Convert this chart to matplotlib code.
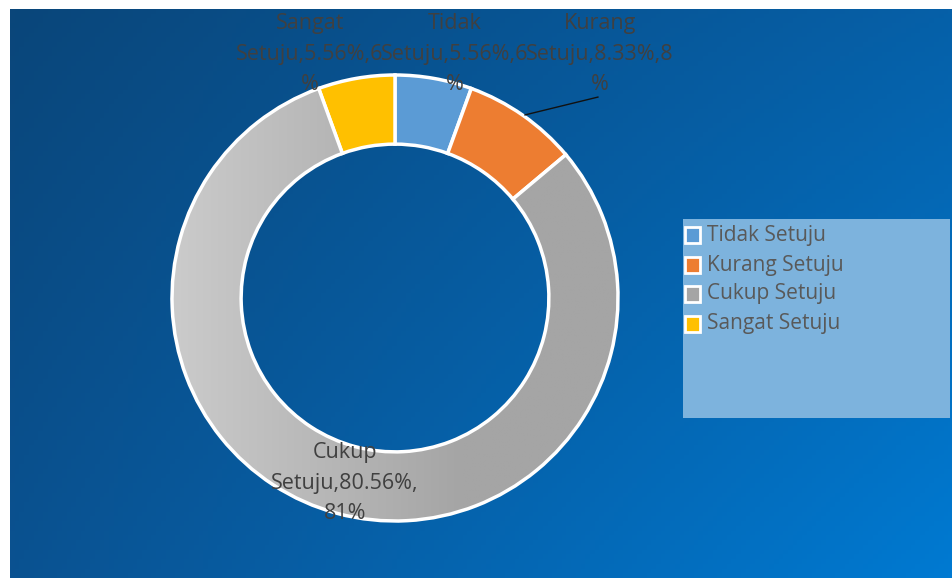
import numpy as np
import matplotlib
matplotlib.use("Agg")
import matplotlib.pyplot as plt
from matplotlib.patches import Rectangle

categories = ["Tidak Setuju", "Kurang Setuju", "Cukup Setuju", "Sangat Setuju"]
percent = [5.56, 8.33, 80.56, 5.56]
rounded = [6, 8, 81, 6]
colors = ["#5B9BD5", "#ED7D31", "#A5A5A5", "#FFC000"]
label_texts = ["Tidak\nSetuju,5.56%,6\n%", "Kurang\nSetuju,8.33%,8\n%",
               "Cukup\nSetuju,80.56%,\n81%", "Sangat\nSetuju,5.56%,6\n%"]

W, H = 953, 578
fig = plt.figure(figsize=(W / 100, H / 100), dpi=100)
fig.patch.set_facecolor("white")

# background gradient panel
bg = fig.add_axes([10 / W, 0, (W - 10) / W, (H - 9) / H])
bg.set_axis_off()
nx, ny = 200, 120
xx, yy = np.meshgrid(np.linspace(0, 1, nx), np.linspace(0, 1, ny))
tl = np.array([10, 70, 122]) / 255
tr = np.array([6, 96, 168]) / 255
bl = np.array([10, 82, 145]) / 255
br = np.array([0, 122, 210]) / 255
img = ((1 - xx)[..., None] * (1 - yy)[..., None] * tl + xx[..., None] * (1 - yy)[..., None] * tr
       + (1 - xx)[..., None] * yy[..., None] * bl + xx[..., None] * yy[..., None] * br)
bg.imshow(img, aspect="auto", extent=[0, 1, 1, 0])
bg.set_xlim(0, 1)
bg.set_ylim(1, 0)

# donut axes
cx, cy, R = 395, 298, 223
ax = fig.add_axes([(cx - R) / W, (H - cy - R) / H, 2 * R / W, 2 * R / H])
ax.set_axis_off()
ax.patch.set_alpha(0)
wedges, _ = ax.pie(percent, colors=colors, startangle=90, counterclock=False,
                   radius=1, wedgeprops=dict(width=0.31, edgecolor="white", linewidth=2.5))
ax.set_xlim(-1, 1)
ax.set_ylim(-1, 1)
ax.set_aspect("equal")

# gradient on the grey segment
gx, gy = np.meshgrid(np.linspace(-1, 1, 300), np.linspace(-1, 1, 300))
t = np.clip((gx + 1) / 1.3, 0, 1)
light = np.array([203, 203, 203]) / 255
dark = np.array([165, 165, 165]) / 255
gimg = (1 - t)[..., None] * light + t[..., None] * dark
im = ax.imshow(gimg, extent=[-1, 1, -1, 1], origin="lower", zorder=wedges[2].get_zorder() + 0.1)
im.set_clip_path(wedges[2])
wedges[2].set_facecolor("none")
wedges[2].set_zorder(im.get_zorder() + 0.1)

font = "Open Sans"
txtc = "#404040"
label_pos = [(0.269, 1.094), (0.919, 1.094), (-0.224, -0.83), (-0.381, 1.094)]
for txt, (lx, ly) in zip(label_texts, label_pos):
    ax.text(lx, ly, txt, ha="center", va="center", fontsize=15.5, color=txtc,
            family=font, linespacing=1.6, clip_on=False, zorder=10)
ax.plot([0.583, 0.910], [0.821, 0.901], color="#111111", lw=1, clip_on=False, zorder=9)

# legend box
fig.patches.append(Rectangle((683 / W, (H - 418) / H), 267 / W, 199 / H,
                             transform=fig.transFigure, facecolor="#7db3dd", edgecolor="none", zorder=5))
rows = [235, 265, 294, 324]
for name, col, ry in zip(categories, colors, rows):
    fig.patches.append(Rectangle((685 / W, (H - ry - 8) / H), 15 / W, 16 / H, transform=fig.transFigure,
                                 facecolor=col, edgecolor="white", linewidth=2, zorder=6))
    fig.text(707 / W, (H - ry) / H, name, ha="left", va="center", fontsize=15,
             color="#595959", family=font, zorder=7)

fig.savefig("out.png", dpi=100)
